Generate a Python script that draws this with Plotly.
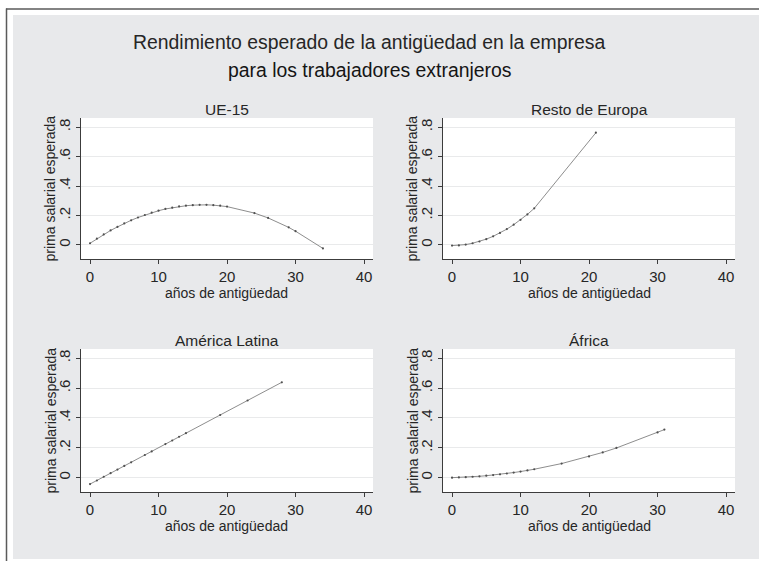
import plotly.graph_objects as go

W, H = 759, 561

# ---------------- data ----------------
ue15_x = [0, 1, 2, 3, 4, 5, 6, 7, 8, 9, 10, 11, 12, 13, 14, 15, 16, 17, 18, 19, 20, 24, 26, 29, 30, 34]
ue15_y = [0.011, 0.042, 0.071, 0.098, 0.122, 0.146, 0.167, 0.186, 0.203, 0.219, 0.232, 0.244,
          0.253, 0.261, 0.266, 0.270, 0.272, 0.272, 0.270, 0.266, 0.260, 0.216, 0.183, 0.119,
          0.093, -0.024]

resto_x = [0, 1, 2, 3, 4, 5, 6, 7, 8, 9, 10, 11, 12, 21]
resto_y = [-0.005, -0.004, 0.002, 0.011, 0.023, 0.039, 0.058, 0.081, 0.107, 0.137, 0.170,
           0.207, 0.248, 0.762]

amlat_x = [0, 1, 2, 3, 4, 5, 6, 8, 9, 11, 12, 13, 14, 19, 23, 28]
amlat_y = [-0.043, -0.019, 0.006, 0.030, 0.054, 0.079, 0.103, 0.152, 0.176, 0.225, 0.249,
           0.274, 0.298, 0.420, 0.517, 0.639]

africa_x = [0, 1, 2, 3, 4, 5, 6, 7, 8, 9, 10, 11, 12, 16, 20, 22, 24, 30, 31]
africa_y = [0.0, 0.0014, 0.0034, 0.0060, 0.0093, 0.0131, 0.0175, 0.0225, 0.0281, 0.0343,
            0.0411, 0.0485, 0.0565, 0.0945, 0.142, 0.169, 0.199, 0.303, 0.322]

panel_titles = ["UE-15", "Resto de Europa", "América Latina", "África"]
x_ticks = [0, 10, 20, 30, 40]
x_ticktext = ["0", "10", "20", "30", "40"]
y_ticks = [0, 0.2, 0.4, 0.6, 0.8]
y_ticktext = ["0", ".2", ".4", ".6", ".8"]
title_lines = ["Rendimiento esperado de la antigüedad en la empresa",
               "para los trabajadores extranjeros"]
x_title = "años de antigüedad"
y_title = "prima salarial esperada"

series = [(ue15_x, ue15_y), (resto_x, resto_y), (amlat_x, amlat_y), (africa_x, africa_y)]

# ---------------- layout helpers ----------------
def px(x):
    return x / W

def py(y):
    return 1 - y / H

FONT = "Liberation Sans, Arial, sans-serif"
BG = "#e8e9eb"
AXIS = "#3c3c3c"
TEXT = "#262626"

# pixel boxes: (left, right, top, bottom)
boxes = [(81, 373, 118, 259), (443, 735, 118, 259),
         (81, 373, 349, 492), (443, 735, 349, 492)]

fig = go.Figure()
annotations = []

for i, ((xs, ys), (l, r, t, b)) in enumerate(zip(series, boxes)):
    n = i + 1
    xa = "x" if n == 1 else f"x{n}"
    ya = "y" if n == 1 else f"y{n}"
    fig.add_trace(go.Scatter(x=xs, y=ys, mode="lines+markers", xaxis=xa, yaxis=ya,
                             line=dict(color="#707070", width=0.8),
                             marker=dict(size=2.2, color="#505050"),
                             showlegend=False, hoverinfo="x+y"))
    axkey_x = "xaxis" if n == 1 else f"xaxis{n}"
    axkey_y = "yaxis" if n == 1 else f"yaxis{n}"
    fig.update_layout(**{
        axkey_x: dict(domain=[px(l), px(r)], anchor=ya, range=[-1.32, 41.31],
                      tickvals=x_ticks, ticktext=x_ticktext, showgrid=False, zeroline=False,
                      showline=True, linecolor=AXIS, linewidth=1,
                      ticks="outside", ticklen=4, tickcolor=AXIS, tickwidth=1,
                      tickfont=dict(family=FONT, size=15, color=TEXT)),
        axkey_y: dict(domain=[py(b), py(t)], anchor=xa, range=[-0.096, 0.862],
                      tickvals=y_ticks, ticktext=y_ticktext, showgrid=True,
                      gridcolor="#e9eaeb", gridwidth=1.2, zeroline=False,
                      showline=True, linecolor=AXIS, linewidth=1,
                      ticks="outside", ticklen=4, tickcolor=AXIS, tickwidth=1,
                      tickangle=-90,
                      tickfont=dict(family=FONT, size=15, color=TEXT)),
    })
    cx = (l + r) / 2
    annotations.append(dict(text=panel_titles[i], x=px(cx), y=py(t - 9), xref="paper", yref="paper",
                            showarrow=False, xanchor="center", yanchor="middle",
                            font=dict(family=FONT, size=15.5, color=TEXT)))
    annotations.append(dict(text=x_title, x=px(cx), y=py(b + 34), xref="paper", yref="paper",
                            showarrow=False, xanchor="center", yanchor="middle",
                            font=dict(family=FONT, size=14, color=TEXT)))
    annotations.append(dict(text=y_title, x=px(l - 31), y=py((t + b) / 2), xref="paper", yref="paper",
                            showarrow=False, xanchor="center", yanchor="middle", textangle=-90,
                            font=dict(family=FONT, size=14, color=TEXT)))

annotations.append(dict(text=title_lines[0], x=px(369), y=py(42), xref="paper", yref="paper",
                        showarrow=False, xanchor="center", yanchor="middle",
                        font=dict(family=FONT, size=19.4, color=TEXT)))
annotations.append(dict(text=title_lines[1], x=px(369), y=py(70), xref="paper", yref="paper",
                        showarrow=False, xanchor="center", yanchor="middle",
                        font=dict(family=FONT, size=19.4, color="#151515")))

shapes = [
    dict(type="rect", xref="paper", yref="paper", x0=0, x1=px(13), y0=0, y1=1,
         fillcolor="white", line=dict(width=0), layer="below"),
    dict(type="rect", xref="paper", yref="paper", x0=0, x1=1, y0=py(15), y1=1,
         fillcolor="white", line=dict(width=0), layer="below"),
    dict(type="rect", xref="paper", yref="paper", x0=0, x1=1, y0=0, y1=py(559),
         fillcolor="white", line=dict(width=0), layer="below"),
    dict(type="line", xref="paper", yref="paper", x0=px(6.5), x1=px(6.5), y0=0, y1=py(8.5),
         line=dict(color="#5a5a5a", width=1.5)),
    dict(type="line", xref="paper", yref="paper", x0=px(6), x1=1, y0=py(9), y1=py(9),
         line=dict(color="#5a5a5a", width=1.5)),
]

fig.update_layout(width=W, height=H, margin=dict(l=0, r=0, t=0, b=0),
                  paper_bgcolor=BG, plot_bgcolor="white",
                  annotations=annotations, shapes=shapes,
                  font=dict(family=FONT, color=TEXT))

fig.write_html("out.html", config={"displayModeBar": False},
               post_script="document.body.style.margin='0';document.body.style.overflow='hidden';")
